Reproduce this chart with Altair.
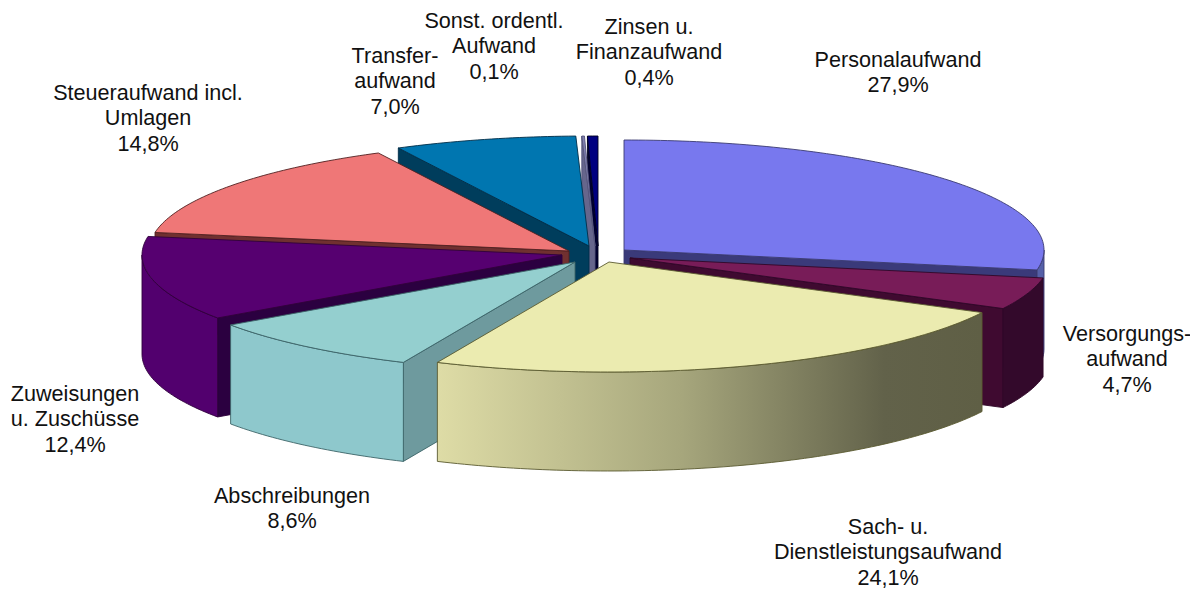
import math
import altair as alt

# ---- data ----
names = ["Personalaufwand", "Versorgungs-\naufwand", "Sach- u.\nDienstleistungsaufwand",
         "Abschreibungen", "Zuweisungen\nu. Zuschüsse", "Steueraufwand incl.\nUmlagen",
         "Transfer-\naufwand", "Sonst. ordentl.\nAufwand", "Zinsen u.\nFinanzaufwand"]
shares = [27.9, 4.7, 24.1, 8.6, 12.4, 14.8, 7.0, 0.1, 0.4]
share_text = ["27,9%", "4,7%", "24,1%", "8,6%", "12,4%", "14,8%", "7,0%", "0,1%", "0,4%"]

# ---- styling / layout ----
centre_x = [624, 630, 609, 575, 562, 569, 589, 595, 598]
centre_y = [250, 258, 262, 262, 255, 251, 246, 246, 246]
top_col = ["#7878EE", "#781C58", "#EBEBB0", "#94CFCF", "#560070", "#EF7777", "#0076B0", "#8080B0", "#000080"]
wall_col = ["#5560A8", "#33092B", "#DEDCA6", "#8EC8CC", "#52006E", "#703030", "#003D5C", "#66668C", "#000030"]
face_col = ["#3A3A7A", "#3F0A30", "#8A8A60", "#6E9A9E", "#2B0040", "#703030", "#003D5C", "#66668C", "#000030"]
line_col = ["#3A3A70", "#300828", "#5A5A30", "#3C6468", "#30003C", "#502020", "#002E48", "#55557A", "#000020"]
label_x = [898, 1127, 888, 292, 75, 148, 395, 494, 649]
label_y = [60.5, 334.5, 527.5, 496.5, 394.5, 93.5, 56.5, 21.5, 27.5]
RX, RY, DEPTH = 420, 110, 99
draw_order = [8, 7, 6, 5, 0, 4, 1, 3]  # back to front; index 2 (Sach) comes last in its own layers


def pt(i, deg, drop=0):
    a = math.radians(deg)
    return [centre_x[i] + RX * math.sin(a), centre_y[i] - RY * math.cos(a) + drop]


def arc(i, a0, a1, drop=0):
    n = max(2, int(abs(a1 - a0)) + 2)
    return [pt(i, a0 + (a1 - a0) * k / (n - 1), drop) for k in range(n)]


def feature(ring, fill, stroke):
    ring = ring + [ring[0]]
    return {"type": "Feature", "fill": fill, "stroke": stroke,
            "geometry": {"type": "Polygon", "coordinates": [ring]}}


def faces(i, a0, a1):
    out = []
    c = [centre_x[i], centre_y[i]]
    c_low = [c[0], c[1] + DEPTH]
    for a, visible in ((a1, 0 < a1 < 180), (a0, 180 < a0 < 360)):
        if visible:
            out.append(feature([c, pt(i, a), pt(i, a, DEPTH), c_low], face_col[i], line_col[i]))
    w0, w1 = max(a0, 90), min(a1, 270)
    if w1 > w0:
        out.append(feature(arc(i, w0, w1) + arc(i, w1, w0, DEPTH), wall_col[i], line_col[i]))
    return out


def top(i, a0, a1):
    return feature([[centre_x[i], centre_y[i]]] + arc(i, a0, a1), top_col[i], line_col[i])


starts, acc = [], 0.0
for s in shares:
    starts.append(acc * 3.6)
    acc += s
ends = [a + s * 3.6 for a, s in zip(starts, shares)]

main = []
for i in draw_order:
    main += faces(i, starts[i], ends[i])
    main.append(top(i, starts[i], ends[i]))
sach_wall = feature(arc(2, max(starts[2], 90), ends[2]) + arc(2, ends[2], max(starts[2], 90), DEPTH),
                    wall_col[2], line_col[2])
sach_top = top(2, starts[2], ends[2])

proj = dict(type="identity", scale=1, translate=[-8, -8])
SW = 0.9

base = alt.Chart(alt.Data(values=main)).mark_geoshape(strokeWidth=SW).encode(
    fill=alt.Fill("fill:N", scale=None, legend=None),
    stroke=alt.Stroke("stroke:N", scale=None, legend=None),
).project(**proj)

gradient = {"gradient": "linear", "x1": 1, "x2": 0, "y1": 0, "y2": 0,
            "stops": [{"offset": 0, "color": "#5F5F45"},
                      {"offset": 0.18, "color": "#62624A"},
                      {"offset": 0.55, "color": "#A6A67C"},
                      {"offset": 1, "color": "#DEDCA6"}]}
wall = alt.Chart(alt.Data(values=[sach_wall])).mark_geoshape(
    fill=gradient, stroke=line_col[2], strokeWidth=SW).project(**proj)
sach = alt.Chart(alt.Data(values=[sach_top])).mark_geoshape(
    fill=top_col[2], stroke=line_col[2], strokeWidth=SW).project(**proj)

rows = [{"label": n + "\n" + t, "lon": x, "lat": y}
        for n, t, x, y in zip(names, share_text, label_x, label_y)]
text = alt.Chart(alt.Data(values=rows)).mark_text(
    font="Liberation Sans", fontSize=21.6, lineHeight=25.5, lineBreak="\n",
    align="center", baseline="middle", color="#111111",
).encode(longitude="lon:Q", latitude="lat:Q", text="label:N").project(**proj)

chart = alt.layer(base, wall, sach, text).properties(
    width=1182, height=581, padding=0, background="white"
).configure_view(stroke=None)

chart.save("out.html", embed_options={"renderer": "svg", "actions": False})
